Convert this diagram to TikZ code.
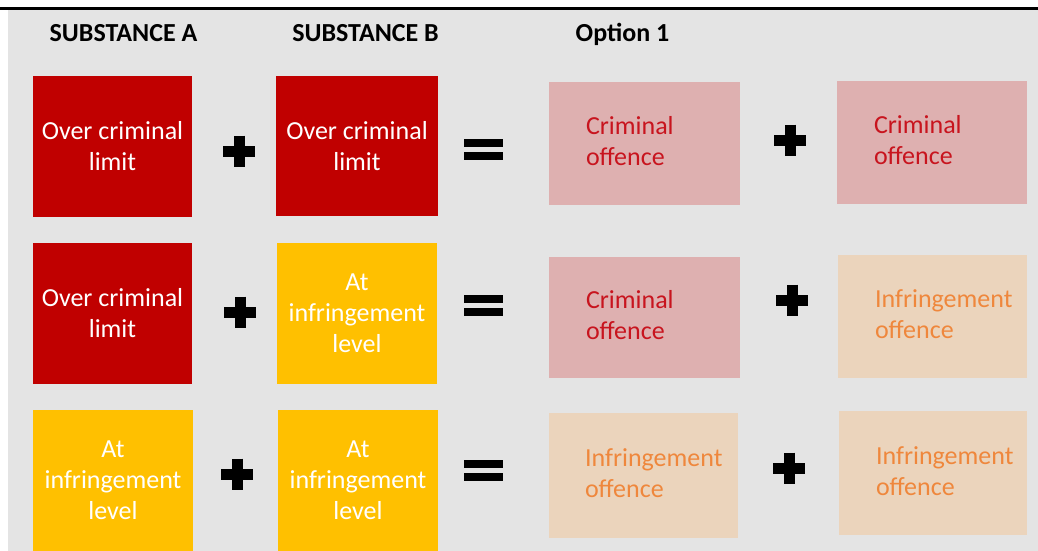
\documentclass[tikz,border=0pt]{standalone}
\usepackage{fontspec}
\setmainfont{Carlito}
\usetikzlibrary{positioning}

\definecolor{pagegray}{HTML}{E4E4E4}
\definecolor{overred}{HTML}{C00000}
\definecolor{atyellow}{HTML}{FFC000}
\definecolor{crimpink}{HTML}{DEB0B0}
\definecolor{crimtextred}{HTML}{C8141E}
\definecolor{infpeach}{HTML}{EBD4BC}
\definecolor{inftextorange}{HTML}{EF873C}

\begin{document}
\begin{tikzpicture}[
    x=1pt,
    y=-1pt,
    inner sep=0pt
]
\tikzstyle{box}=[minimum width=160pt, minimum height=141pt, align=center, text=white, font=\fontsize{26}{31}\selectfont]
\tikzstyle{over}=[box, fill=overred]
\tikzstyle{atlevel}=[box, fill=atyellow]
\tikzstyle{result}=[minimum width=190pt, minimum height=123pt]
\tikzstyle{crimbox}=[result, fill=crimpink]
\tikzstyle{infbox}=[result, fill=infpeach]
\tikzstyle{restext}=[align=left, yshift=2pt, font=\fontsize{26}{31}\selectfont]
\tikzstyle{crimtext}=[restext, text=crimtextred]
\tikzstyle{inftext}=[restext, text=inftextorange]
\tikzstyle{heading}=[anchor=base, font=\bfseries\fontsize{26}{30}\selectfont]
\tikzstyle{plussign}=[minimum width=32pt, minimum height=31pt, path picture={
    \draw[line width=11pt] (path picture bounding box.west) -- (path picture bounding box.east);
    \draw[line width=11pt] (path picture bounding box.north) -- (path picture bounding box.south);
}]
\tikzstyle{equalsign}=[minimum width=39pt, minimum height=21pt, path picture={
    \draw[line width=8pt] ([yshift=-4pt]path picture bounding box.north west) -- ([yshift=-4pt]path picture bounding box.north east);
    \draw[line width=8pt] ([yshift=4pt]path picture bounding box.south west) -- ([yshift=4pt]path picture bounding box.south east);
}]

\useasboundingbox (0,0) rectangle (1038,551);
\fill[pagegray] (8,10) rectangle (1038,551);
\draw[line width=2.5pt] (0,8.7) -- (1038,8.7);

% Headings
\node[heading] (headA) at (123.5,42) {SUBSTANCE A};
\node[heading] (headB) at (365.5,42) {SUBSTANCE B};
\node[heading] (headopt) at (622.5,42) {Option 1};

% Row 1
\node[over, minimum width=159pt] (a1) at (112.5,146) {Over criminal\\limit};
\node[plussign] (pa1) at (239,151) {};
\node[over, minimum width=162pt, minimum height=140pt] (b1) at (357,146) {Over criminal\\limit};
\node[equalsign] (eq1) at (483.5,149) {};
\node[crimbox, minimum width=191pt] (c1) at (644.5,143.5) {};
\node[crimtext, right=37pt of c1.west] (c1t) {Criminal\\offence};
\node[plussign] (pc1) at (790,140) {};
\node[crimbox] (d1) at (932,142.5) {};
\node[crimtext, right=37pt of d1.west] (d1t) {Criminal\\offence};

% Row 2
\node[over, minimum width=159pt] (a2) at (112.5,313.5) {Over criminal\\limit};
\node[plussign] (pa2) at (240,312) {};
\node[atlevel] (b2) at (357,313.5) {At\\infringement\\level};
\node[equalsign] (eq2) at (483.5,305.5) {};
\node[crimbox, minimum width=191pt, minimum height=121pt] (c2) at (644.5,317.5) {};
\node[crimtext, right=37pt of c2.west] (c2t) {Criminal\\offence};
\node[plussign] (pc2) at (792,300) {};
\node[infbox, minimum width=189pt] (d2) at (932.5,316.5) {};
\node[inftext, right=37pt of d2.west] (d2t) {Infringement\\offence};

% Row 3
\node[atlevel] (a3) at (113,480.5) {At\\infringement\\level};
\node[plussign] (pa3) at (237,474) {};
\node[atlevel] (b3) at (358,480.5) {At\\infringement\\level};
\node[equalsign] (eq3) at (483.5,470) {};
\node[infbox, minimum width=189pt, minimum height=125pt] (c3) at (643.5,475.5) {};
\node[inftext, right=36pt of c3.west] (c3t) {Infringement\\offence};
\node[plussign] (pc3) at (789,468) {};
\node[infbox, minimum width=188pt, minimum height=124pt] (d3) at (933,473) {};
\node[inftext, right=37pt of d3.west] (d3t) {Infringement\\offence};

\end{tikzpicture}
\end{document}
